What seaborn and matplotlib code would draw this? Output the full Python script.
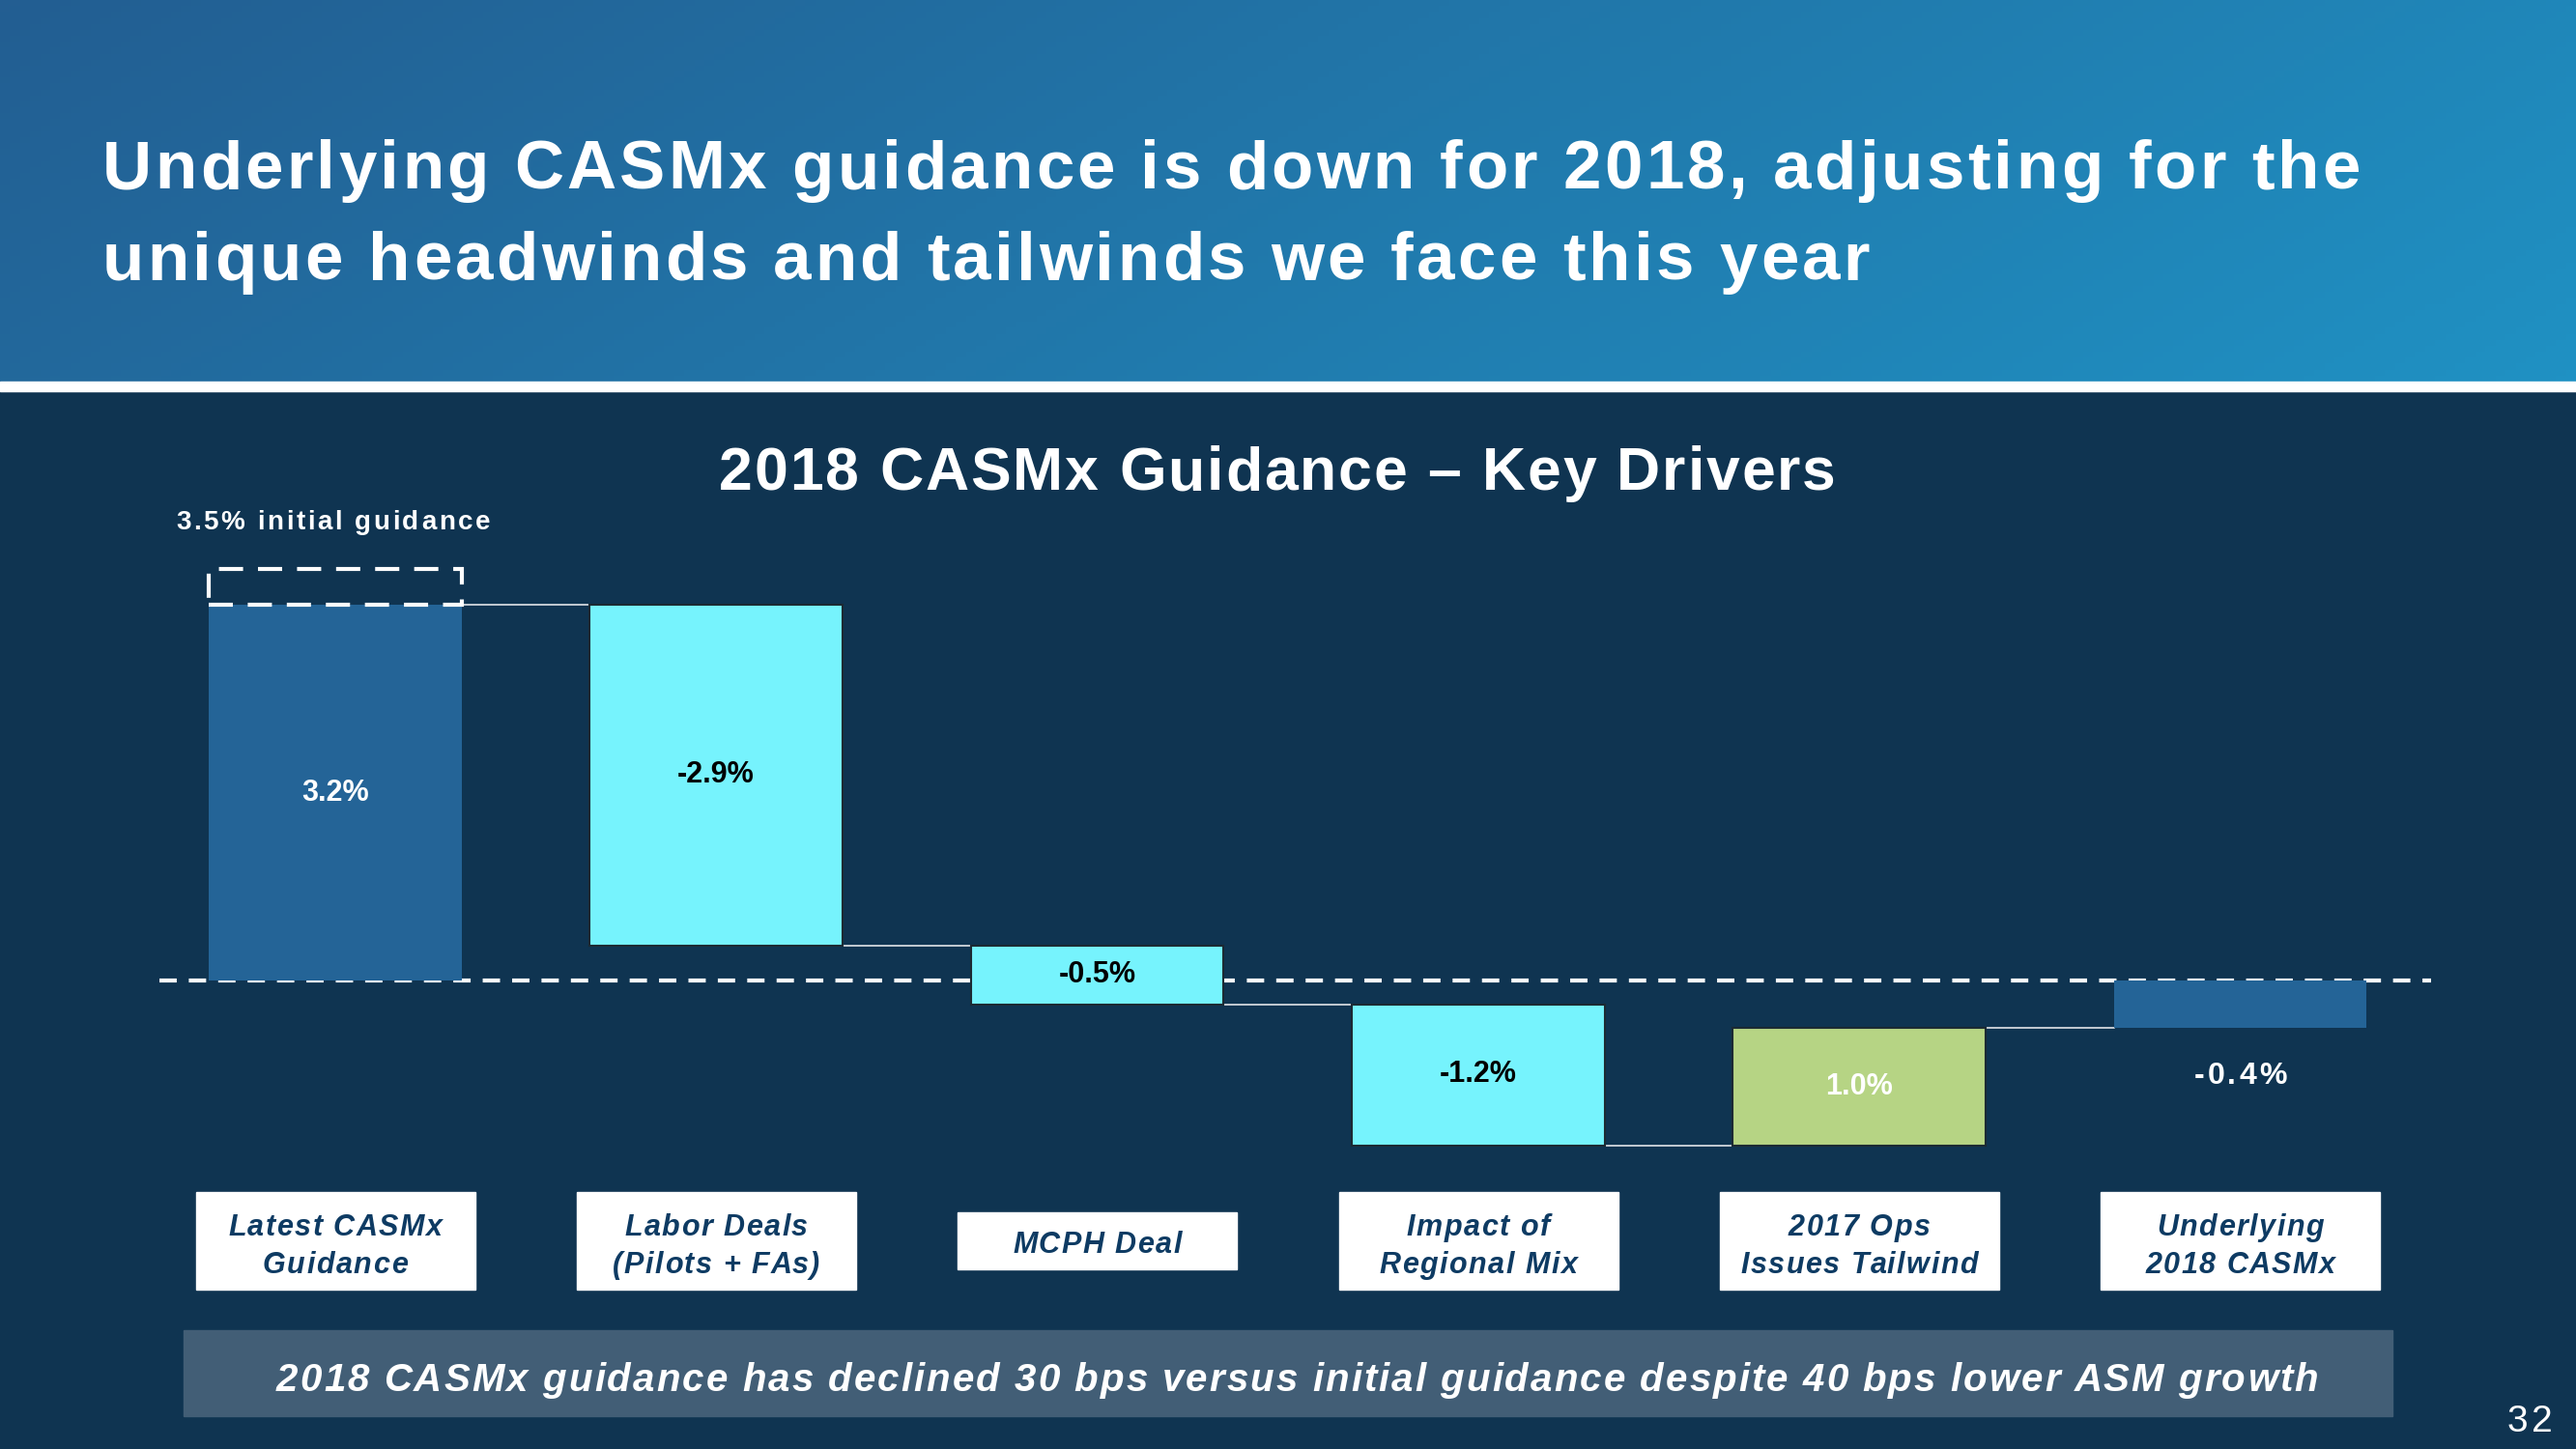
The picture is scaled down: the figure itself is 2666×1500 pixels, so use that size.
import numpy as np
import matplotlib
matplotlib.use("Agg")
import matplotlib.pyplot as plt
from matplotlib import font_manager
from matplotlib.colors import LinearSegmentedColormap
from matplotlib.patches import Rectangle
from matplotlib.transforms import IdentityTransform
import seaborn as sns

# ---- data ----
categories = ["Latest CASMx\nGuidance", "Labor Deals\n(Pilots + FAs)", "MCPH Deal",
              "Impact of\nRegional Mix", "2017 Ops\nIssues Tailwind", "Underlying\n2018 CASMx"]
changes = [3.2, -2.9, -0.5, -1.2, 1.0, -0.4]
bar_kind = ["total", "delta", "delta", "delta", "delta", "total"]
value_labels = ["3.2%", "-2.9%", "-0.5%", "-1.2%", "1.0%", "-0.4%"]
initial_guidance = 3.5

header_lines = ["Underlying CASMx guidance is down for 2018, adjusting for the",
                "unique headwinds and tailwinds we face this year"]
chart_title = "2018 CASMx Guidance \u2013 Key Drivers"
initial_label = "3.5% initial guidance"
footer_text = ("2018 CASMx guidance has declined 30 bps versus initial guidance "
               "despite 40 bps lower ASM growth")
page_no = "32"

# ---- colours ----
navy = "#0F3451"
total_col = "#246497"
down_col = "#76F3FD"
up_col = "#B6D484"
label_col = "#0E3B63"

sns.set_theme(style="dark")


def pick(fam):
    try:
        font_manager.findfont(font_manager.FontProperties(family=fam),
                              fallback_to_default=False)
        return fam
    except ValueError:
        return None


narrow = pick("Liberation Sans Narrow") or pick("Liberation Sans") or "DejaVu Sans"
plt.rcParams["font.family"] = [narrow, "DejaVu Sans"]

W, H = 2666, 1500
fig = plt.figure(figsize=(W / 100, H / 100), dpi=100, facecolor=navy)
renderer = fig.canvas.get_renderer()
px = IdentityTransform()


def text_w(s, **kw):
    t = fig.text(0, 0, s, transform=px, **kw)
    w = t.get_window_extent(renderer).width
    t.remove()
    return w


def spaced(s, x, base, size, width=None, track=0.0, ha="left", **kw):
    # letter-spaced text; x and base are pixels from the top-left corner
    kw["fontsize"] = size
    bar = text_w("|", **kw)
    pos = [0.0] + [text_w(s[:i] + "|", **kw) - bar for i in range(1, len(s))]
    natural = text_w(s, **kw)
    if width is not None:
        track = (width - natural) / max(len(s) - 1, 1)
    total = natural + track * (len(s) - 1)
    if ha == "center":
        x -= total / 2
    for i, ch in enumerate(s):
        if ch != " ":
            fig.text(x + pos[i] + i * track, H - base, ch, transform=px,
                     ha="left", va="baseline", **kw)


# header band with gradient
hax = fig.add_axes([0, 1 - 395 / H, 1, 395 / H])
grad = np.linspace(0, 1, 256)[None, :] * 0.8 + np.linspace(0, 1, 64)[:, None] * 0.2
hax.imshow(grad, cmap=LinearSegmentedColormap.from_list("hdr", ["#235E92", "#1F91C3"]),
           aspect="auto", extent=[0, 1, 0, 1], origin="upper")
hax.axis("off")
fig.add_artist(Rectangle((0, H - 405), W, 10, transform=px, color="white"))

spaced(header_lines[0], 106, 195, 51, width=2337, color="white", weight="bold")
spaced(header_lines[1], 106, 290, 51, width=1829, color="white", weight="bold")

# ---- waterfall ----
bottoms, ends = [], []
run = 0.0
for ch, kind in zip(changes, bar_kind):
    b = 0.0 if kind == "total" else run
    bottoms.append(b)
    run = b + ch
    ends.append(run)

ax = fig.add_axes([165 / W, 1 - 1222 / H, 2351 / W, 657 / H])
ax.set_facecolor("none")
sns.barplot(x=categories, y=changes, order=categories, bottom=bottoms, color=total_col,
            saturation=1, width=0.664, errorbar=None, ax=ax, zorder=3)
for p, kind, ch in zip(ax.patches, bar_kind, changes):
    if kind == "total":
        p.set_facecolor(total_col)
        p.set_edgecolor("none")
    else:
        p.set_facecolor(down_col if ch < 0 else up_col)
        p.set_edgecolor("#1c2a33")
        p.set_linewidth(1.5)

ax.set_xlim(-0.461, 5.501)
ax.set_ylim(-1.7, 3.7)
ax.axis("off")

ax.axhline(0, color="white", lw=3, ls=(0, (4.3, 3)), zorder=1)
half = 0.332
for i in range(len(changes) - 1):
    ax.plot([i + half, i + 1 - half], [ends[i], ends[i]], color="#C3CBD2", lw=1.4, zorder=2)

ax.add_patch(Rectangle((-half, changes[0]), 2 * half, initial_guidance - changes[0],
                       fill=False, ec="white", lw=3, ls=(0, (6, 3.7)), zorder=4))

for i, (lab, b, ch, kind) in enumerate(zip(value_labels, bottoms, changes, bar_kind)):
    if i == len(changes) - 1:
        cx = ax.transData.transform((i, 0))[0]
        spaced(lab, cx, 1122, 23, track=3, ha="center", color="white", weight="bold")
        continue
    col = "white" if (kind == "total" or ch > 0) else "black"
    ax.text(i, b + ch / 2, lab, ha="center", va="center", fontsize=22,
            color=col, weight="bold", zorder=5)

# category boxes below the bars
for i, cat in enumerate(categories):
    cx = ax.transData.transform((i, 0))[0]
    lines = cat.split("\n")
    if len(lines) == 2:
        fig.add_artist(Rectangle((cx - 144, H - 1335), 289, 101, transform=px,
                                 color="white"))
        bases = [1279, 1318]
    else:
        fig.add_artist(Rectangle((cx - 144, H - 1314), 289, 59, transform=px,
                                 color="white"))
        bases = [1297]
    for ln, bs in zip(lines, bases):
        spaced(ln, cx, bs, 22, track=1.5, ha="center", color=label_col,
               weight="bold", style="italic")

# titles and notes
spaced(chart_title, 744, 507, 45, width=1156, color="white", weight="bold")
spaced(initial_label, 182, 548, 20, width=325, color="white", weight="bold")

fig.add_artist(Rectangle((190, H - 1466), 2286, 89, transform=px, color="#425E76"))
spaced(footer_text, 286, 1440, 29, width=2113, color="white", weight="bold", style="italic")
spaced(page_no, 2595, 1482, 28, track=3, color="white")

fig.savefig("out.png", dpi=100, facecolor=navy)
